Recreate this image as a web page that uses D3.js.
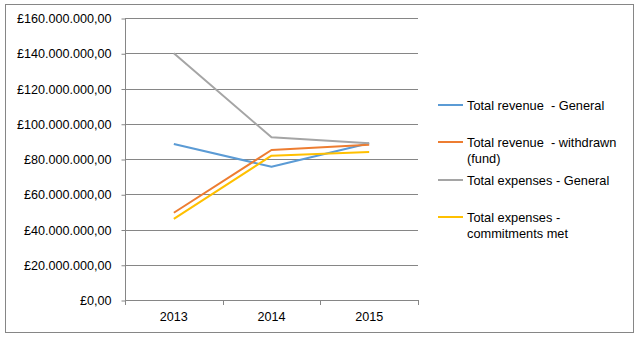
<!DOCTYPE html>
<html><head><meta charset="utf-8">
<script src="https://cdn.jsdelivr.net/npm/d3@7"></script>
<style>body{margin:0;background:#fff}svg{display:block;font-family:"Liberation Sans",Arial,sans-serif}text{white-space:pre}</style>
</head><body><svg id="c" width="640" height="339"></svg>
<script>
const categories = ["2013","2014","2015"];
const seriesNames = ["Total revenue  - General","Total revenue  - withdrawn (fund)","Total expenses - General","Total expenses - commitments met"];
const revenueGeneral = [88.5e6, 75.6e6, 88.9e6];
const revenueWithdrawn = [49.5e6, 85.1e6, 88.1e6];
const expensesGeneral = [140e6, 92.3e6, 88.9e6];
const expensesCommitments = [46e6, 81.9e6, 84e6];
const yTicks = [0,20e6,40e6,60e6,80e6,100e6,120e6,140e6,160e6];
const colors = ["#5b9bd5","#ed7d31","#a5a5a5","#ffc000"];
const legendLines = [["Total revenue  - General"],["Total revenue  - withdrawn","(fund)"],["Total expenses - General"],["Total expenses -","commitments met"]];

const series = [revenueGeneral, revenueWithdrawn, expensesGeneral, expensesCommitments];
const svg = d3.select("#c");
svg.append("rect").attr("x",5.5).attr("y",4.5).attr("width",628).attr("height",328).attr("fill","#fff").attr("stroke","#868686");

const pL=125, pR=418, pT=18, pB=300;
const x = d3.scaleBand().domain(categories).range([pL,pR]);
const y = d3.scaleLinear().domain([0,160e6]).range([pB,pT]);
const fmt = v => "£" + d3.format(",.2f")(v).replace(/,/g,"#").replace(".",",").replace(/#/g,".");

svg.append("g").selectAll("line").data(yTicks.filter(d=>d>0)).join("line")
  .attr("x1",pL).attr("x2",pR).attr("y1",d=>Math.round(y(d))+0.5).attr("y2",d=>Math.round(y(d))+0.5)
  .attr("stroke","#868686");

const yAxis = svg.append("g").attr("transform",`translate(${pL+0.5},0.5)`)
  .call(d3.axisLeft(y).tickValues(yTicks).tickFormat(fmt).tickSize(4).tickPadding(10));
yAxis.select(".domain").attr("stroke","#868686").attr("d",`M0,${pT}V${pB}`);
yAxis.selectAll(".tick line").attr("stroke","#868686");
yAxis.selectAll("text").attr("font-size",12.6).attr("fill","#000").attr("font-family","Liberation Sans, Arial, sans-serif");

const xAxis = svg.append("g").attr("transform",`translate(0,${pB+0.5})`)
  .call(d3.axisBottom(x).tickSize(0).tickPadding(12));
xAxis.select(".domain").attr("stroke","#868686").attr("d",`M${pL},0H${pR}`);
xAxis.selectAll("text").attr("font-size",12.6).attr("fill","#000").attr("font-family","Liberation Sans, Arial, sans-serif");
const edges = [pL, ...categories.slice(1).map(c=>x(c)), pR];
svg.append("g").selectAll("line").data(edges).join("line")
  .attr("x1",d=>Math.round(d)+0.5).attr("x2",d=>Math.round(d)+0.5).attr("y1",pB).attr("y2",pB+5).attr("stroke","#868686");

const line = d3.line().x((d,i)=>x(categories[i])+x.bandwidth()/2).y(d=>y(d));
svg.append("g").selectAll("path").data(series).join("path")
  .attr("d",line).attr("fill","none").attr("stroke",(d,i)=>colors[i]).attr("stroke-width",2).attr("stroke-linejoin","round");

const legY = [105,142,180,217];
const lg = svg.append("g");
legendLines.forEach((lines,i)=>{
  lg.append("line").attr("x1",438).attr("x2",463).attr("y1",legY[i]).attr("y2",legY[i]).attr("stroke",colors[i]).attr("stroke-width",2);
  lines.forEach((t,j)=>{
    lg.append("text").attr("x",467).attr("y",legY[i]+4.5+j*16).attr("font-size",12.8).attr("fill","#000").attr("xml:space","preserve").text(t);
  });
});
</script></body></html>
